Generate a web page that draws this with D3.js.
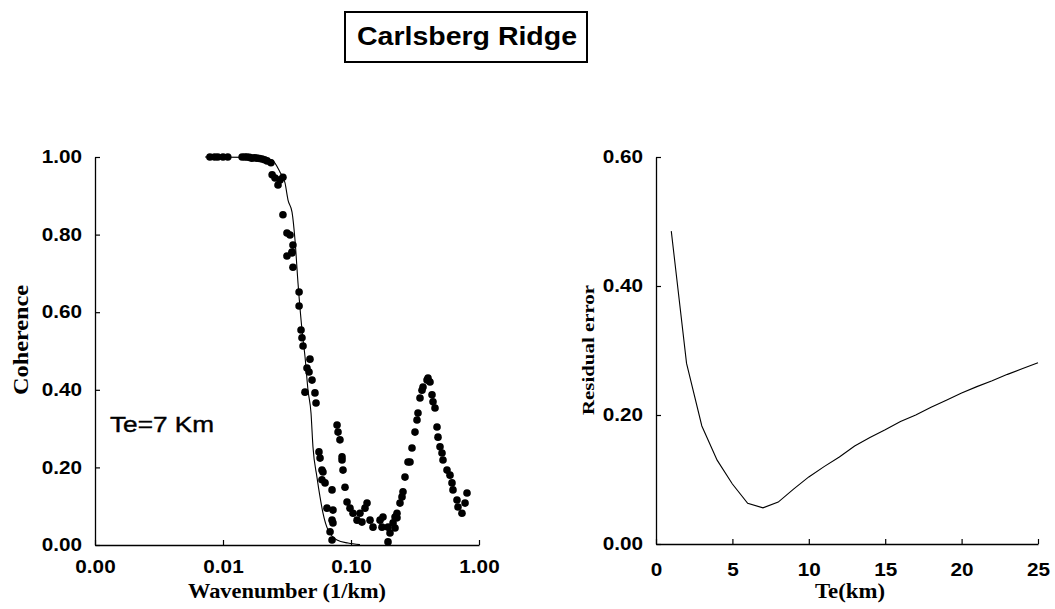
<!DOCTYPE html>
<html>
<head>
<meta charset="utf-8">
<script src="https://cdn.jsdelivr.net/npm/d3@7"></script>
<style>
  html, body { margin: 0; padding: 0; background: #fff; }
  svg { display: block; }
  .tick text { font-family: "Liberation Sans", Arial, sans-serif; font-weight: bold; fill: #000; }
</style>
</head>
<body>
<svg id="chart" width="1055" height="609"></svg>
<script>
// ---------------- DATA ----------------
const chartTitle = "Carlsberg Ridge";
const annotation = "Te=7 Km";

// Left panel: observed coherence (dots)
const wavenumber = [
  0.0079, 0.0086, 0.0091, 0.0100, 0.0109, 0.0141, 0.0148, 0.0154, 0.0161, 0.0168, 0.0176, 0.0184, 0.0193, 0.0202, 0.0211, 0.0221, 0.0237,
  0.0242, 0.0255, 0.0279, 0.0294, 0.0269, 0.0294, 0.0316, 0.0334, 0.0352, 0.0346, 0.0316, 0.0346, 0.0352,
  0.0393, 0.0393, 0.0407, 0.0414, 0.0422, 0.0478, 0.0453, 0.0470, 0.0496, 0.0437, 0.0523, 0.0533,
  0.0562, 0.0573, 0.0593, 0.0604, 0.0593, 0.0627, 0.0711, 0.0649, 0.0723, 0.0711, 0.0723, 0.0686, 0.0711,
  0.0778, 0.0792, 0.0820, 0.0851, 0.0851, 0.0866, 0.0898, 0.0931, 0.0982, 0.1037, 0.1115, 0.1175, 0.1286,
  0.1334, 0.1218, 0.1408, 0.1486, 0.1686, 0.1778, 0.1746, 0.1946, 0.2017, 0.1946, 0.2287, 0.2208,
  0.2131, 0.2208, 0.2287, 0.2414, 0.2503, 0.2548, 0.2641, 0.2788, 0.2890, 0.2996, 0.3162, 0.3278, 0.3337,
  0.3459, 0.3586, 0.3652, 0.3926, 0.3996, 0.4142, 0.4294, 0.4372, 0.4532, 0.4698, 0.4783, 0.4958, 0.5140,
  0.5233, 0.5623, 0.5934, 0.6152, 0.6263, 0.6730, 0.6852, 0.7362, 0.7780, 0.8059
];
const coherence = [
  1.000, 1.000, 1.000, 1.000, 1.000, 1.000, 1.000, 1.000, 0.999, 0.997, 0.998, 0.997, 0.996, 0.995, 0.993, 0.990, 0.985,
  0.954, 0.946, 0.941, 0.948, 0.928, 0.851, 0.804, 0.799, 0.773, 0.755, 0.745, 0.753, 0.716,
  0.652, 0.616, 0.554, 0.534, 0.513, 0.479, 0.456, 0.446, 0.425, 0.394, 0.392, 0.366,
  0.240, 0.224, 0.193, 0.188, 0.168, 0.160, 0.142, 0.095, 0.090, 0.064, 0.057, 0.034, 0.013,
  0.309, 0.291, 0.271, 0.227, 0.219, 0.193, 0.149, 0.111, 0.095, 0.082, 0.064, 0.082, 0.095,
  0.108, 0.059, 0.064, 0.046, 0.064, 0.072, 0.046, 0.046, 0.031, 0.008, 0.070, 0.044,
  0.057, 0.072, 0.082, 0.108, 0.124, 0.137, 0.175, 0.214, 0.214, 0.250, 0.291, 0.322, 0.340,
  0.379, 0.399, 0.407, 0.425, 0.430, 0.420, 0.387, 0.369, 0.353, 0.304, 0.278, 0.253, 0.237,
  0.219, 0.193, 0.180, 0.160, 0.142, 0.116, 0.098, 0.082, 0.108, 0.134
];

// Left panel: model coherence curve for Te = 7 km
const fitWavenumber = [0.00723, 0.0162, 0.0213, 0.02415, 0.02789, 0.03051, 0.03221, 0.03462, 0.03652, 0.03855, 0.04143, 0.04373, 0.04615, 0.0487, 0.05045, 0.0542, 0.05727, 0.06043, 0.06607, 0.0778, 0.0948, 0.1175];
const fitCoherence  = [1.000, 0.999, 0.996, 0.992, 0.961, 0.933, 0.889, 0.858, 0.786, 0.675, 0.554, 0.485, 0.399, 0.340, 0.253, 0.175, 0.124, 0.082, 0.039, 0.013, 0.005, 0.001];

const leftXTicks = [0.001, 0.01, 0.1, 1];
const leftYTicks = [0, 0.2, 0.4, 0.6, 0.8, 1.0];

// Right panel: residual error vs Te
const te       = [1, 2, 3, 4, 5, 6, 7, 8, 9, 10, 11, 12, 13, 14, 15, 16, 17, 18, 19, 20, 21, 22, 23, 24, 25];
const residual = [0.485, 0.28, 0.183, 0.13, 0.093, 0.063, 0.056, 0.065, 0.085, 0.104, 0.12, 0.135, 0.152, 0.165, 0.177, 0.19, 0.20, 0.212, 0.223, 0.234, 0.244, 0.253, 0.263, 0.272, 0.281];
const rightXTicks = [0, 5, 10, 15, 20, 25];
const rightYTicks = [0, 0.2, 0.4, 0.6];

// ---------------- DRAW ----------------
const svg = d3.select("#chart");

function stretch(sel, factor) {
  sel.each(function() {
    const w = this.getComputedTextLength();
    d3.select(this).attr("textLength", w * factor).attr("lengthAdjust", "spacingAndGlyphs");
  });
}

// Title box
svg.append("rect").attr("x", 345).attr("y", 12).attr("width", 242).attr("height", 50)
  .attr("fill", "none").attr("stroke", "#000").attr("stroke-width", 2);
svg.append("text").attr("x", 467).attr("y", 45).attr("text-anchor", "middle")
  .attr("font-family", "Liberation Sans, Arial, sans-serif").attr("font-weight", "bold")
  .attr("font-size", 26).attr("textLength", 220).attr("lengthAdjust", "spacingAndGlyphs")
  .text(chartTitle);

// ---- Left panel ----
const xL = d3.scaleLog().domain([0.001, 1]).range([95, 479]);
const yL = d3.scaleLinear().domain([0, 1]).range([545, 157]);

const gxL = svg.append("g").attr("transform", "translate(0,545)")
  .call(d3.axisBottom(xL).tickValues(leftXTicks).tickFormat(d3.format(".2f")).tickSizeInner(-5).tickSizeOuter(0).tickPadding(15));
const gyL = svg.append("g").attr("transform", "translate(95,0)")
  .call(d3.axisLeft(yL).tickValues(leftYTicks).tickFormat(d3.format(".2f")).tickSizeInner(-5).tickSizeOuter(0).tickPadding(13));

[gxL, gyL].forEach(g => {
  g.select(".domain").attr("stroke", "#000").attr("stroke-width", 1.3);
  g.selectAll(".tick line").attr("stroke", "#000").attr("stroke-width", 1.2);
  g.selectAll(".tick text").attr("font-size", 18);
  stretch(g.selectAll(".tick text"), 1.15);
});

// Model curve
const fitData = fitWavenumber.map((k, i) => [k, fitCoherence[i]]);
svg.append("path").datum(fitData)
  .attr("fill", "none").attr("stroke", "#000").attr("stroke-width", 1.1)
  .attr("d", d3.line().x(d => xL(d[0])).y(d => yL(d[1])).curve(d3.curveMonotoneX));

// Observed dots
svg.append("g").selectAll("circle").data(wavenumber.map((k, i) => [k, coherence[i]]))
  .join("circle")
  .attr("cx", d => xL(d[0])).attr("cy", d => yL(d[1])).attr("r", 3.8).attr("fill", "#000");

// Annotation
svg.append("text").attr("x", 110).attr("y", 432)
  .attr("font-family", "Liberation Sans, Arial, sans-serif").attr("font-size", 22)
  .attr("stroke", "#000").attr("stroke-width", 0.4)
  .attr("textLength", 104).attr("lengthAdjust", "spacingAndGlyphs")
  .text(annotation);

// Axis titles
svg.append("text").attr("transform", "translate(287,598)").attr("text-anchor", "middle")
  .attr("font-family", "Liberation Serif, Times New Roman, serif").attr("font-weight", "bold")
  .attr("font-size", 20).attr("textLength", 198).attr("lengthAdjust", "spacingAndGlyphs")
  .text("Wavenumber (1/km)");
svg.append("text").attr("transform", "translate(28,340) rotate(-90)").attr("text-anchor", "middle")
  .attr("font-family", "Liberation Serif, Times New Roman, serif").attr("font-weight", "bold")
  .attr("font-size", 21).attr("textLength", 110).attr("lengthAdjust", "spacingAndGlyphs")
  .text("Coherence");

// ---- Right panel ----
const xR = d3.scaleLinear().domain([0, 25]).range([656, 1038]);
const yR = d3.scaleLinear().domain([0, 0.6]).range([544, 157]);

const gxR = svg.append("g").attr("transform", "translate(0,544)")
  .call(d3.axisBottom(xR).tickValues(rightXTicks).tickFormat(d3.format("d")).tickSizeInner(-5).tickSizeOuter(0).tickPadding(19));
const gyR = svg.append("g").attr("transform", "translate(656,0)")
  .call(d3.axisLeft(yR).tickValues(rightYTicks).tickFormat(d3.format(".2f")).tickSizeInner(-5).tickSizeOuter(0).tickPadding(13));

[gxR, gyR].forEach(g => {
  g.select(".domain").attr("stroke", "#000").attr("stroke-width", 1.3);
  g.selectAll(".tick line").attr("stroke", "#000").attr("stroke-width", 1.2);
  g.selectAll(".tick text").attr("font-size", 18);
  stretch(g.selectAll(".tick text"), 1.15);
});

svg.append("path").datum(te.map((t, i) => [t, residual[i]]))
  .attr("fill", "none").attr("stroke", "#000").attr("stroke-width", 1.1)
  .attr("d", d3.line().x(d => xR(d[0])).y(d => yR(d[1])));

svg.append("text").attr("transform", "translate(850,598)").attr("text-anchor", "middle")
  .attr("font-family", "Liberation Serif, Times New Roman, serif").attr("font-weight", "bold")
  .attr("font-size", 20).attr("textLength", 70).attr("lengthAdjust", "spacingAndGlyphs")
  .text("Te(km)");
svg.append("text").attr("transform", "translate(594,350) rotate(-90)").attr("text-anchor", "middle")
  .attr("font-family", "Liberation Serif, Times New Roman, serif").attr("font-weight", "bold")
  .attr("font-size", 16).attr("textLength", 130).attr("lengthAdjust", "spacingAndGlyphs")
  .text("Residual error");
</script>
</body>
</html>
